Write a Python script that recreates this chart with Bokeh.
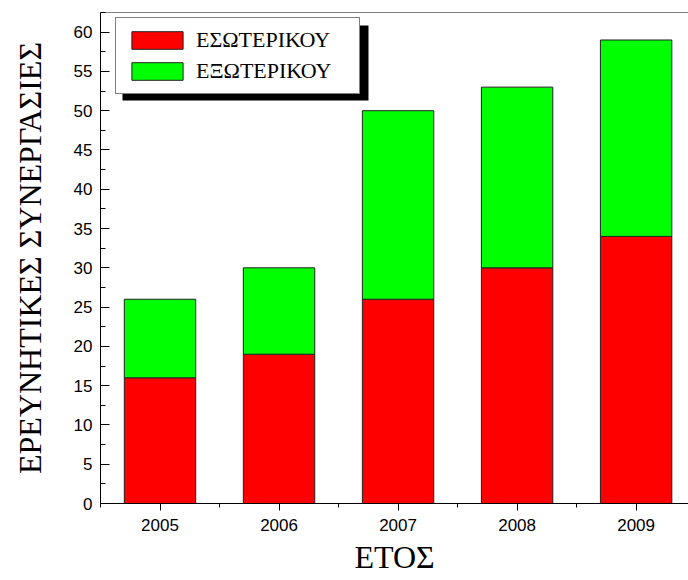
from bokeh.plotting import figure
from bokeh.models import (Range1d, FixedTicker, Legend, LegendItem,
                          BoxAnnotation, ColumnDataSource, Span)
from bokeh.embed import file_html
from bokeh.resources import INLINE

# ---- data ----
years = [2005, 2006, 2007, 2008, 2009]
esoterikou = [16, 19, 26, 30, 34]
exoterikou = [10, 11, 24, 23, 25]
series_keys = ["esoterikou", "exoterikou"]
series_labels = ["ΕΣΩΤΕΡΙΚΟΥ", "ΕΞΩΤΕΡΙΚΟΥ"]
series_colors = ["#FF0000", "#00FF00"]
x_major_ticks = [2005, 2006, 2007, 2008, 2009]
x_minor_ticks = [2004.5, 2005.5, 2006.5, 2007.5, 2008.5]
y_major_ticks = [0, 5, 10, 15, 20, 25, 30, 35, 40, 45, 50, 55, 60]
y_minor_ticks = [2.5, 7.5, 12.5, 17.5, 22.5, 27.5, 32.5, 37.5, 42.5, 47.5, 52.5, 57.5, 62.5]
x_label = "ΕΤΟΣ"
y_label = "ΕΡΕΥΝΗΤΙΚΕΣ ΣΥΝΕΡΓΑΣΙΕΣ"
y_top = 62.5

source = ColumnDataSource(dict(years=years, esoterikou=esoterikou, exoterikou=exoterikou))

p = figure(width=688, height=580, output_backend="svg", toolbar_location=None,
           x_range=Range1d(2004.5, 2009.44), y_range=Range1d(0, y_top),
           min_border_left=100, min_border_right=0, min_border_top=12, min_border_bottom=77,
           x_axis_label=x_label, y_axis_label=y_label)
p.outline_line_color = None
p.xgrid.visible = False
p.ygrid.visible = False
p.background_fill_color = "white"
p.border_fill_color = "white"

renderers = p.vbar_stack(series_keys, x="years", width=0.6, source=source,
                         color=series_colors, line_color="#222222", line_width=1)

AX_FONT = "Liberation Serif"
LEG_FONT = "'Liberation Serif', serif"
TICK_FONT = "Liberation Sans"

# x axis (bottom)
xa = p.xaxis[0]
xa.ticker = FixedTicker(ticks=x_major_ticks, minor_ticks=x_minor_ticks)
xa.major_tick_in = 0
xa.major_tick_out = 7
xa.minor_tick_in = 0
xa.minor_tick_out = 4
xa.major_label_standoff = 8
xa.major_label_text_font = TICK_FONT
xa.major_label_text_font_size = "17px"
xa.major_label_text_color = "black"
xa.axis_label_text_font = AX_FONT
xa.axis_label_text_font_size = "32px"
xa.axis_label_text_font_style = "normal"
xa.axis_label_text_color = "black"
xa.axis_label_standoff = 5
xa.axis_line_color = "black"
xa.major_tick_line_color = "black"
xa.minor_tick_line_color = "black"

# y axis (left)
ya = p.yaxis[0]
ya.ticker = FixedTicker(ticks=y_major_ticks, minor_ticks=y_minor_ticks)
ya.major_tick_in = 9
ya.major_tick_out = 0
ya.minor_tick_in = 5
ya.minor_tick_out = 0
ya.major_label_standoff = 8
ya.major_label_text_font = TICK_FONT
ya.major_label_text_font_size = "17px"
ya.major_label_text_color = "black"
ya.axis_label_text_font = AX_FONT
ya.axis_label_text_font_size = "32px"
ya.axis_label_text_font_style = "normal"
ya.axis_label_text_color = "black"
ya.axis_label_standoff = 23
ya.axis_line_color = "black"
ya.major_tick_line_color = "black"
ya.minor_tick_line_color = "black"

# top frame line
p.add_layout(Span(location=y_top, dimension="width", line_color="black", line_width=1))

# legend shadow
shadow = BoxAnnotation(left=22, right=268, top=478, bottom=403,
                       left_units="screen", right_units="screen",
                       top_units="screen", bottom_units="screen",
                       fill_color="black", fill_alpha=1.0, line_color=None)
p.add_layout(shadow)

legend = Legend(items=[LegendItem(label=series_labels[i], renderers=[renderers[i]])
                       for i in range(len(series_labels))],
                location=(15, 409), margin=0, padding=9, spacing=5,
                glyph_width=64, glyph_height=22, label_standoff=7, label_width=154,
                label_text_font=LEG_FONT, label_text_font_size="22px",
                label_text_font_style="normal",
                label_text_color="black",
                border_line_color="black", border_line_width=1,
                background_fill_color="white", background_fill_alpha=1.0)
p.add_layout(legend, "center")

open("out.html", "w").write(file_html(p, INLINE))
